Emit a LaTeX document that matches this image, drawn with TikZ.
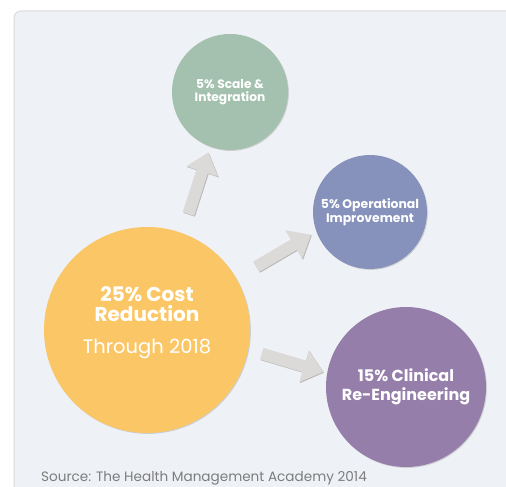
\documentclass[tikz,border=0pt]{standalone}
\usepackage{fontspec}
\setmainfont{Poppins}
\usetikzlibrary{arrows.meta}

\definecolor{panelfill}{HTML}{EEF1F6}
\definecolor{panelline}{HTML}{D9DADC}
\definecolor{greenbub}{HTML}{A3C1AE}
\definecolor{bluebub}{HTML}{8692BC}
\definecolor{yellowbub}{HTML}{FBC766}
\definecolor{purplebub}{HTML}{957EAA}
\definecolor{arrowgrey}{HTML}{DCDAD8}
\definecolor{arrowedge}{HTML}{B9B7B5}
\definecolor{sourcegrey}{HTML}{7D7D7D}

\tikzset{
  bubble/.style={circle, inner sep=0pt, text=white, align=center,
    preaction={fill=black!35, opacity=0.45,
      transform canvas={shift={(0.9pt,-0.9pt)}}}},
  blockarrow/.style={line width=12pt, draw=arrowgrey,
    -{Triangle[width=32pt,length=20pt]},
    preaction={draw=arrowedge, line width=12pt,
      -{Triangle[width=32pt,length=20pt]},
      transform canvas={shift={(0.8pt,-0.8pt)}}}},
}

\begin{document}
\begin{tikzpicture}[x=1pt,y=-1pt]
\useasboundingbox (0,0) rectangle (506,487);
\clip (0,0) rectangle (506,487);

% background panel
\fill[white] (0,0) rectangle (506,487);
\draw[panelline, fill=panelfill, rounded corners=7pt, line width=1pt]
  (14,11) rectangle (530,510);

% circles
\node[bubble, fill=greenbub, minimum size=116pt,
      font=\fontsize{12.2}{13}\selectfont\bfseries] (scale) at (230,92)
  {5\% Scale \&\\Integration};
\node[bubble, fill=bluebub, minimum size=114pt,
      font=\fontsize{12.4}{14}\selectfont\bfseries] (oper) at (370,212)
  {5\% Operational\\Improvement};
\node[bubble, fill=yellowbub, minimum size=206pt,
      font=\fontsize{20}{20}\selectfont\bfseries] (cost) at (147,330)
  {25\% Cost\\Reduction\\[12pt]\mdseries\fontsize{19.5}{20}\selectfont Through 2018\\[-1pt]\mbox{}};
\node[bubble, fill=purplebub, minimum size=160pt,
      font=\fontsize{16}{19}\selectfont\bfseries] (clin) at (406,387)
  {15\% Clinical\\Re-Engineering};

% block arrows from the main circle to each of the three parts
\draw[blockarrow, shorten <=20pt, shorten >=6pt] (cost.70) -- (scale.250);
\draw[blockarrow, shorten <=23pt, shorten >=6pt] (cost.30) -- (oper.200);
\draw[blockarrow, shorten <=14pt, shorten >=4pt] (cost.349) -- (clin.170);

% source line
\node[anchor=west, text=sourcegrey, inner sep=0pt,
      font=\fontsize{13.6}{15}\selectfont] (source) at (41,478)
  {Source: The Health Management Academy 2014};
\end{tikzpicture}
\end{document}
